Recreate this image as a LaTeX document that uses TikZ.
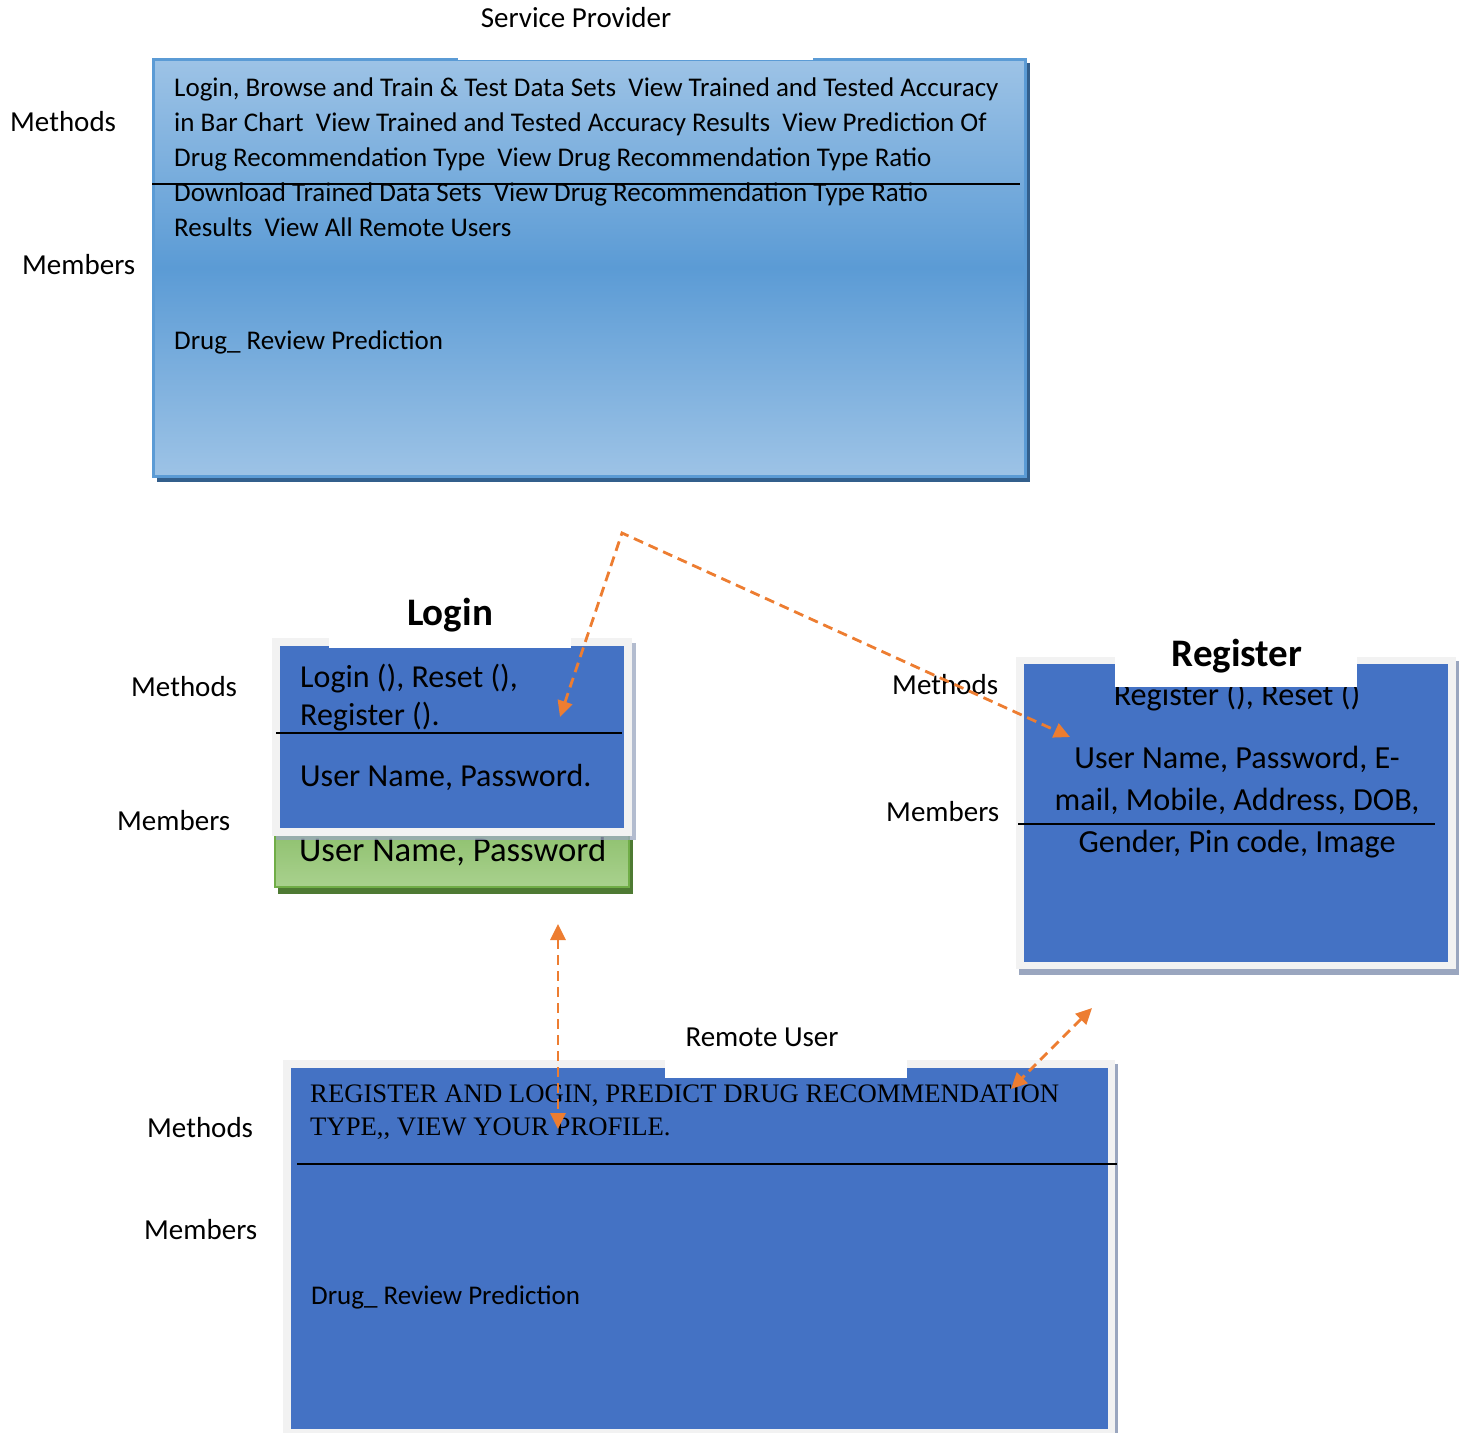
\documentclass[tikz,border=0pt]{standalone}
\usepackage{fontspec}
\setmainfont{Carlito}
\newfontfamily\timesf{Liberation Serif}
\usetikzlibrary{arrows.meta}
\definecolor{spLight}{HTML}{9DC3E6}
\definecolor{spMid}{HTML}{5B9BD5}
\definecolor{spBorder}{HTML}{5B9BD5}
\definecolor{spShadow}{HTML}{335F8C}
\definecolor{boxBlue}{HTML}{4472C4}
\definecolor{frameGray}{HTML}{F2F2F2}
\definecolor{shadowGray}{HTML}{9AA6BF}
\definecolor{greenTop}{HTML}{8CBF6B}
\definecolor{greenBot}{HTML}{A9D18E}
\definecolor{greenBorder}{HTML}{70AD47}
\definecolor{greenShadow}{HTML}{4E7A33}
\definecolor{arrowOrange}{HTML}{ED7D31}
\tikzset{
  lbl/.style={inner sep=0, anchor=base west, font=\fontsize{29}{35}\selectfont},
  sptext/.style={inner sep=0, anchor=base west, font=\fontsize{27}{35}\selectfont},
  logintext/.style={inner sep=0, anchor=base west, font=\fontsize{32}{38}\selectfont},
  regtext/.style={inner sep=0, anchor=base, font=\fontsize{32.2}{42}\selectfont},
  titletext/.style={inner sep=0, anchor=base, font=\fontsize{39}{45}\selectfont\bfseries},
  rutext/.style={inner sep=0, anchor=base west, font=\fontsize{26.7}{33}\selectfont\timesf},
  bluebox/.style={anchor=north west, inner sep=0, outer sep=0, fill=boxBlue},
  divider/.style={line width=2pt, black},
  tipA/.tip={Triangle[length=16pt,width=15pt]},
  conn/.style={draw=arrowOrange, line width=2.8pt, dash pattern=on 10pt off 6pt, tipA-tipA},
}
\begin{document}
\begin{tikzpicture}[x=1pt,y=-1pt]
\useasboundingbox (0,0) rectangle (1459,1433);

% ---------- Service Provider ----------
\node[inner sep=0, anchor=base, font=\fontsize{29}{35}\selectfont] (sptitle) at (576,27.5) {Service Provider};
\fill[spShadow] (157,63) rectangle (1030,482);
\node[anchor=north west, inner sep=0, outer sep=0, draw=spBorder, line width=3pt,
      top color=spLight, bottom color=spLight, middle color=spMid,
      minimum width=872, minimum height=417] (spbox) at (153.5,59) {};
\fill[white] (458,55) rectangle (813,59.5);
\draw[divider] (152,184) -- (1020,184);
\node[sptext] (sp1) at (174,96) {Login, Browse and Train \& Test Data Sets\ \ View Trained and Tested Accuracy};
\node[sptext] (sp2) at (174,131.2) {in Bar Chart\ \ View Trained and Tested Accuracy Results\ \ View Prediction Of};
\node[sptext] (sp3) at (174,166.4) {Drug Recommendation Type\ \ View Drug Recommendation Type Ratio};
\node[sptext] (sp4) at (174,201.6) {Download Trained Data Sets\ \ View Drug Recommendation Type Ratio};
\node[sptext] (sp5) at (174,236.8) {Results\ \ View All Remote Users};
\node[sptext] (sp6) at (174,349.5) {Drug\_ Review Prediction};
\node[lbl] (spm) at (10,131.5) {Methods};
\node[lbl] (spmem) at (22,274.5) {Members};

% ---------- Login ----------
\fill[greenShadow] (278,840) rectangle (633,894);
\node[anchor=north west, inner sep=0, outer sep=0, draw=greenBorder, line width=2pt,
      top color=greenTop, bottom color=greenBot,
      minimum width=354, minimum height=62] (greenbox) at (275,825) {};
\node[inner sep=0, anchor=base west, font=\fontsize{34.7}{40}\selectfont] (greentext) at (299,861) {User Name, Password};
\fill[shadowGray, opacity=0.75] (276,643) rectangle (636,840);
\fill[frameGray] (272,638) rectangle (632,836);
\node[bluebox, minimum width=344, minimum height=182] (loginbox) at (280,646) {};
\fill[white] (329,638) rectangle (571,648);
\draw[divider] (276,733) -- (622,733);
\node[titletext] (logintitle) at (450,625.5) {Login};
\node[logintext] (l1) at (300,687) {Login (), Reset (),};
\node[logintext] (l2) at (300,725) {Register ().};
\node[logintext] (l3) at (300,786) {User Name, Password.};
\node[lbl] (lm) at (131,696.5) {Methods};
\node[lbl] (lmem) at (117,830.5) {Members};

% ---------- Register ----------
\fill[shadowGray] (1019,661) rectangle (1459,975);
\fill[frameGray] (1016,657) rectangle (1456,969);
\node[bluebox, minimum width=424, minimum height=298] (regbox) at (1024,664) {};
\node[regtext] (r1) at (1237,705) {Register (), Reset ()};
\fill[white] (1115,657) rectangle (1357,687);
\node[titletext] (regtitle) at (1237,666) {Register};
\node[regtext] (r2) at (1237,768.5) {User Name, Password, E-};
\node[regtext] (r3) at (1237,810.5) {mail, Mobile, Address, DOB,};
\node[regtext] (r4) at (1237,852.5) {Gender, Pin code, Image};
\draw[divider] (1018,824) -- (1435,824);
\node[lbl] (rm) at (892,694.5) {Methods};
\node[lbl] (rmem) at (886,821.5) {Members};

% ---------- Remote User ----------
\fill[shadowGray] (1114,1064) rectangle (1118,1433);
\fill[frameGray] (283,1060) rectangle (1115,1433);
\node[bluebox, minimum width=817, minimum height=361] (rubox) at (291,1068) {};
\fill[white] (665,1060) rectangle (907,1078);
\node[inner sep=0, anchor=base, font=\fontsize{29}{35}\selectfont] (rutitle) at (762,1046.5) {Remote User};
\draw[divider] (297,1164) -- (1117,1164);
\node[rutext] (ru1) at (310,1102) {REGISTER AND LOGIN, PREDICT DRUG RECOMMENDATION};
\node[rutext] (ru2) at (310,1135) {TYPE,, VIEW YOUR PROFILE.};
\node[sptext] (ru3) at (311,1304.5) {Drug\_ Review Prediction};
\node[lbl] (rum) at (147,1137.5) {Methods};
\node[lbl] (rumem) at (144,1239.5) {Members};

% ---------- connectors ----------
\coordinate (bend) at (622,533);
\coordinate (loginIn) at (560,717);
\coordinate (regIn) at (1070,737);
\coordinate (vTop) at (558,924);
\coordinate (vBot) at (558,1129);
\coordinate (dTop) at (1092,1008);
\coordinate (dBot) at (1011,1089);
\draw[conn] (loginIn) -- (bend) -- (regIn);
\draw[conn] (vTop) -- (vBot);
\draw[conn] (dTop) -- (dBot);
\end{tikzpicture}
\end{document}
